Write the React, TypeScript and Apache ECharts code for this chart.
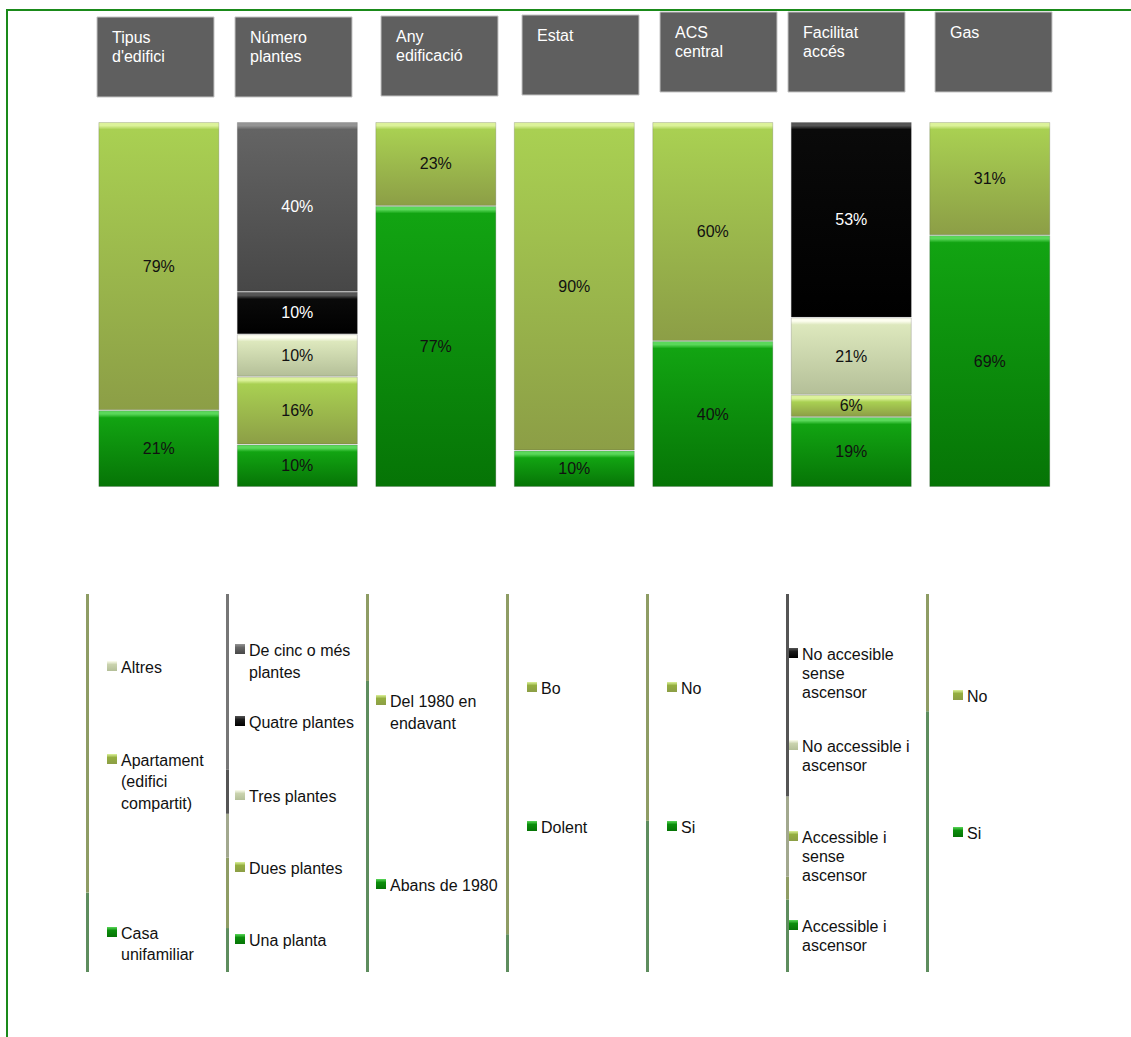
import React, { useEffect, useRef } from 'react';
import * as echarts from 'echarts';

// Column headings (one stacked bar per heading)
const categories = ["Tipus\nd'edifici", 'Número\nplantes', 'Any\nedificació', 'Estat', 'ACS\ncentral', 'Facilitat\naccés', 'Gas'];

// Segments are listed bottom → top, values in %
const tipusNames = ['Casa\nunifamiliar', 'Apartament\n(edifici\ncompartit)', 'Altres'];
const tipusValues = [21, 79, 0];
const tipusTones = ['green', 'olive', 'pale'];

const plantesNames = ['Una planta', 'Dues plantes', 'Tres plantes', 'Quatre plantes', 'De cinc o més\nplantes'];
const plantesValues = [10, 16, 10, 10, 40];
const plantesTones = ['green', 'olive', 'pale', 'black', 'grey'];

const anyNames = ['Abans de 1980', 'Del 1980 en\nendavant'];
const anyValues = [77, 23];
const anyTones = ['green', 'olive'];

const estatNames = ['Dolent', 'Bo'];
const estatValues = [10, 90];
const estatTones = ['green', 'olive'];

const acsNames = ['Si', 'No'];
const acsValues = [40, 60];
const acsTones = ['green', 'olive'];

const accesNames = ['Accessible i\nascensor', 'Accessible i\nsense\nascensor', 'No accessible i\nascensor', 'No accesible\nsense\nascensor'];
const accesValues = [19, 6, 21, 53];
const accesTones = ['green', 'olive', 'pale', 'black'];

const gasNames = ['Si', 'No'];
const gasValues = [69, 31];
const gasTones = ['green', 'olive'];

const columns = [
  { names: tipusNames, values: tipusValues, tones: tipusTones },
  { names: plantesNames, values: plantesValues, tones: plantesTones },
  { names: anyNames, values: anyValues, tones: anyTones },
  { names: estatNames, values: estatValues, tones: estatTones },
  { names: acsNames, values: acsValues, tones: acsTones },
  { names: accesNames, values: accesValues, tones: accesTones },
  { names: gasNames, values: gasValues, tones: gasTones },
];

// Layout of header boxes and legend blocks
const headerBoxes = [[97, 17], [235, 17], [381, 16], [522, 15], [660, 12], [788, 12], [935, 12]];
const legendX = [107, 235, 376, 527, 667, 788, 953];
const legendY = [
  [933, 760, 667],
  [940, 868, 796, 722, 650],
  [885, 701],
  [827, 688],
  [827, 688],
  [926, 837, 746, 654],
  [833, 696],
];
const legendLineHeight = [21.5, 22, 22, 22, 22, 19, 22];

const FONT = "'Liberation Sans', Arial, Helvetica, sans-serif";
const BAR_TOP = 122;
const BAR_HEIGHT = 365;

const tonePalette: Record<string, { hi: string; top: string; bottom: string; line: string; marker: string; label: string }> = {
  green: { hi: '#5ad85a', top: '#12a412', bottom: '#067406', line: '#5e8d5e', marker: '#0c8e0c', label: '#111' },
  olive: { hi: '#dcf29a', top: '#a9d052', bottom: '#8c9e46', line: '#8e9c64', marker: '#94ae40', label: '#111' },
  pale: { hi: '#fdfef0', top: '#dde8bd', bottom: '#b4bf98', line: '#a2a88e', marker: '#cad3ae', label: '#111' },
  black: { hi: '#555555', top: '#0a0a0a', bottom: '#000000', line: '#555555', marker: '#1c1c1c', label: '#fff' },
  grey: { hi: '#949494', top: '#646464', bottom: '#474747', line: '#767676', marker: '#666666', label: '#fff' },
};

// Bevelled segment: bright top strip, darker towards the bottom
function segmentFill(tone: string, hPx: number) {
  const p = tonePalette[tone];
  const f = Math.min(0.4, 7 / Math.max(hPx, 1));
  return new echarts.graphic.LinearGradient(0, 0, 0, 1, [
    { offset: 0, color: p.hi },
    { offset: f * 0.45, color: p.hi },
    { offset: f, color: p.top },
    { offset: 1, color: p.bottom },
  ]);
}

function buildOption() {
  const levels = Math.max(...columns.map((c) => c.values.length));
  const barSeries: any[] = [];
  const lineSeries: any[] = [];
  for (let lvl = 0; lvl < levels; lvl++) {
    barSeries.push({
      type: 'bar',
      name: 'seg' + lvl,
      stack: 'bars',
      xAxisIndex: 0,
      yAxisIndex: 0,
      barWidth: 121,
      silent: true,
      data: columns.map((c) => {
        if (lvl >= c.values.length) return '-';
        const total = c.values.reduce((a, b) => a + b, 0);
        const raw = c.values[lvl];
        const share = (raw / total) * 100;
        const tone = c.tones[lvl];
        return {
          value: share,
          itemStyle: {
            color: segmentFill(tone, (share / 100) * BAR_HEIGHT),
            borderColor: 'rgba(70,70,70,0.22)',
            borderWidth: raw > 0 ? 1 : 0,
          },
          label: {
            show: raw > 0,
            position: 'inside',
            formatter: raw + '%',
            color: tonePalette[tone].label,
            fontSize: 16,
            fontFamily: FONT,
          },
        };
      }),
    });
    lineSeries.push({
      type: 'bar',
      name: 'line' + lvl,
      stack: 'lines',
      xAxisIndex: 1,
      yAxisIndex: 1,
      barWidth: 3,
      silent: true,
      data: columns.map((c) => {
        if (lvl >= c.values.length) return '-';
        const total = c.values.reduce((a, b) => a + b, 0);
        return { value: (c.values[lvl] / total) * 100, itemStyle: { color: tonePalette[c.tones[lvl]].line } };
      }),
    });
  }

  const graphic: any[] = [];
  // outer frame
  graphic.push({
    type: 'rect',
    shape: { x: 7, y: 10, width: 1200, height: 1100 },
    style: { fill: 'transparent', stroke: '#1a8a1a', lineWidth: 2 },
    silent: true,
    z: 100,
  });
  // header boxes
  categories.forEach((cat, i) => {
    const [bx, by] = headerBoxes[i];
    graphic.push({
      type: 'rect',
      shape: { x: bx, y: by, width: 117, height: 80 },
      style: { fill: '#5f5f5f', stroke: '#c4c4c4', lineWidth: 1 },
    });
    graphic.push({
      type: 'text',
      x: bx + 15,
      y: by + 10.5,
      style: { text: cat, fill: '#ffffff', fontSize: 16, fontFamily: FONT, lineHeight: 19, verticalAlign: 'top' },
    });
  });
  // legend blocks
  columns.forEach((c, i) => {
    c.names.forEach((name, k) => {
      const cy = legendY[i][k];
      const p = tonePalette[c.tones[k]];
      graphic.push({
        type: 'rect',
        shape: { x: legendX[i], y: cy - 6, width: 10, height: 10 },
        style: {
          fill: new echarts.graphic.LinearGradient(0, 0, 0, 1, [
            { offset: 0, color: p.hi },
            { offset: 0.35, color: p.marker },
            { offset: 1, color: p.bottom },
          ]),
        },
      });
      const lh = legendLineHeight[i];
      graphic.push({
        type: 'text',
        x: legendX[i] + 14,
        y: cy - lh / 2,
        style: { text: name, fill: '#111111', fontSize: 16, fontFamily: FONT, lineHeight: lh, verticalAlign: 'top' },
      });
    });
  });

  return {
    animation: false,
    backgroundColor: '#ffffff',
    grid: [
      { left: 89.6, top: BAR_TOP, width: 969.4, height: BAR_HEIGHT },
      { left: 17.5, top: 594, width: 980, height: 378 },
    ],
    xAxis: [
      { type: 'category', gridIndex: 0, data: categories, show: false },
      { type: 'category', gridIndex: 1, data: categories, show: false },
    ],
    yAxis: [
      { type: 'value', gridIndex: 0, min: 0, max: 100, show: false },
      { type: 'value', gridIndex: 1, min: 0, max: 100, show: false },
    ],
    series: [...barSeries, ...lineSeries],
    graphic,
  };
}

export default function App() {
  const ref = useRef<HTMLDivElement>(null);
  useEffect(() => {
    if (!ref.current) return;
    const chart = echarts.init(ref.current, null, { renderer: 'svg' });
    chart.setOption(buildOption());
    return () => chart.dispose();
  }, []);
  return (
    <div
      ref={ref}
      style={{ position: 'fixed', left: 0, top: 0, width: 1131, height: 1037, background: '#ffffff' }}
    />
  );
}
